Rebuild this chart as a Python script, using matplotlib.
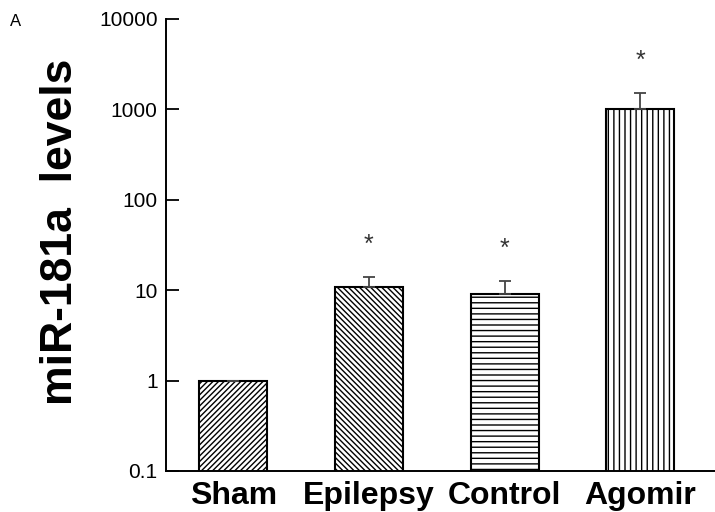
import matplotlib
matplotlib.use("Agg")
import matplotlib.pyplot as plt
from matplotlib.ticker import FixedLocator, FixedFormatter, NullLocator

categories = ["Sham", "Epilepsy", "Control", "Agomir"]
values = [1.0, 10.8, 9.0, 1020.0]
err_up = [0.0, 3.1, 3.6, 480.0]
hatches = ["//////", "\\\\\\\\\\\\", "---", "|||"]
stars = ["", "*", "*", "*"]
ytick_vals = [0.1, 1, 10, 100, 1000, 10000]
ytick_labels = ["0.1", "1", "10", "100", "1000", "10000"]

plt.rcParams['font.family'] = ['Liberation Sans', 'DejaVu Sans']
plt.rcParams['hatch.linewidth'] = 1.0
plt.rcParams['hatch.color'] = '#333333'

fig = plt.figure(figsize=(7.15, 5.12), dpi=100)
ax = fig.add_axes([166/715, 1 - 471/512, 1 - 166/715, (471 - 19)/512])

x = list(range(len(categories)))
bars = ax.bar(x, values, width=0.5, color='white', edgecolor='black',
              linewidth=1.5, zorder=2)
for b, h in zip(bars, hatches):
    b.set_hatch(h)

ax.errorbar(x, values, yerr=[[0]*len(values), err_up], fmt='none',
            ecolor='#444444', elinewidth=1.3, capsize=4, capthick=1.3, zorder=3)

for xi, v, e, s in zip(x, values, err_up, stars):
    if s:
        ax.text(xi, (v + e) * 2.3, s, ha='center', va='center',
                fontsize=18, color='#333333')

ax.set_yscale('log')
ax.set_ylim(0.1, 10000)
ax.set_xlim(-0.495, 3.55)
ax.yaxis.set_major_locator(FixedLocator(ytick_vals))
ax.yaxis.set_major_formatter(FixedFormatter(ytick_labels))
ax.yaxis.set_minor_locator(NullLocator())
ax.tick_params(axis='y', direction='in', length=9, width=1.3, labelsize=15, pad=6)
ax.tick_params(axis='x', length=0, pad=7)
ax.set_xticks(x)
ax.set_xticklabels(categories, fontsize=23, fontweight='bold')

for sp in ['top', 'right']:
    ax.spines[sp].set_visible(False)
for sp in ['left', 'bottom']:
    ax.spines[sp].set_linewidth(1.4)

ax.set_ylabel("miR-181a  levels", fontsize=32, fontweight='bold')
ax.yaxis.set_label_coords(-0.155, 0.529)
fig.text(10/715, 1 - 22/512, "A", fontsize=12, ha='left', va='center')

fig.savefig("out.png", dpi=100)
